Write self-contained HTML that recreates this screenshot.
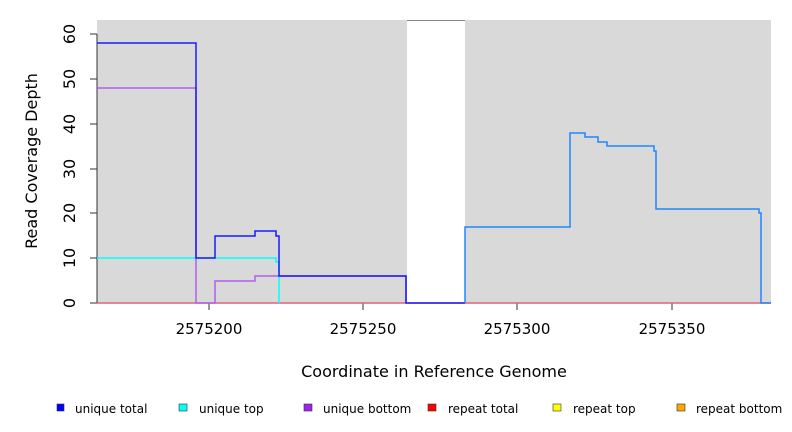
<!DOCTYPE html>
<html><head><meta charset="utf-8"><style>
body{margin:0;background:#fff}
svg{display:block;font-family:"DejaVu Sans","Liberation Sans",sans-serif}
</style></head><body>
<svg width="792" height="432" viewBox="0 0 792 432" xmlns="http://www.w3.org/2000/svg">
<rect x="97" y="20" width="674" height="283" fill="#d9d9d9"/>
<rect x="407" y="20" width="58" height="283" fill="#fff"/>
<line x1="407" y1="20.5" x2="465" y2="20.5" stroke="#888" stroke-width="1"/>
<g stroke="#333" stroke-width="1">
<line x1="97" y1="34" x2="97" y2="303"/>
<line x1="90" y1="303" x2="97" y2="303"/>
<line x1="90" y1="258" x2="97" y2="258"/>
<line x1="90" y1="213" x2="97" y2="213"/>
<line x1="90" y1="169" x2="97" y2="169"/>
<line x1="90" y1="124" x2="97" y2="124"/>
<line x1="90" y1="79" x2="97" y2="79"/>
<line x1="90" y1="34" x2="97" y2="34"/>
<line x1="209" y1="303" x2="209" y2="310"/>
<line x1="363" y1="303" x2="363" y2="310"/>
<line x1="517" y1="303" x2="517" y2="310"/>
<line x1="672" y1="303" x2="672" y2="310"/>
</g>
<g font-size="15" fill="#000" text-anchor="middle">
<text transform="translate(75,303) rotate(-90)" font-size="16">0</text>
<text transform="translate(75,258) rotate(-90)" font-size="16">10</text>
<text transform="translate(75,213) rotate(-90)" font-size="16">20</text>
<text transform="translate(75,169) rotate(-90)" font-size="16">30</text>
<text transform="translate(75,124) rotate(-90)" font-size="16">40</text>
<text transform="translate(75,79) rotate(-90)" font-size="16">50</text>
<text transform="translate(75,34) rotate(-90)" font-size="16">60</text>
<text x="209" y="334">2575200</text>
<text x="363" y="334">2575250</text>
<text x="517" y="334">2575300</text>
<text x="672" y="334">2575350</text>
<text x="434" y="377" font-size="16">Coordinate in Reference Genome</text>
<text transform="translate(37,161) rotate(-90)" font-size="16">Read Coverage Depth</text>
</g>
<g fill="none" stroke-width="1.5">
<line x1="97" y1="303" x2="771" y2="303" stroke="#e0607a"/>
<polyline stroke="#00ffff" points="97,258 276,258 276,262 279,262 279,303"/>
<polyline stroke="#b060f0" points="97,88 196,88 196,303 215,303 215,281 255,281 255,276 406,276 406,303"/>
<polyline stroke="#1a1aff" points="97,43 196,43 196,258 215,258 215,236 255,236 255,231 276,231 276,236 279,236 279,276 406,276 406,303 465,303"/>
<polyline stroke="#1e88ff" points="465,303 465,227 570,227 570,133 585,133 585,137 598,137 598,142 607,142 607,146 654,146 654,151 656,151 656,209 759,209 759,213 761,213 761,303 771,303"/>
</g>
<g font-size="12" fill="#000">
<rect x="57" y="404" width="7" height="7" fill="#0000ff" stroke="#333" stroke-width="0.6"/><text x="75" y="413">unique total</text>
<rect x="179" y="404" width="8" height="7" fill="#00ffff" stroke="#333" stroke-width="0.6"/><text x="199" y="413">unique top</text>
<rect x="304" y="404" width="8" height="7" fill="#a020f0" stroke="#333" stroke-width="0.6"/><text x="323" y="413">unique bottom</text>
<rect x="428" y="404" width="8" height="7" fill="#ff0000" stroke="#333" stroke-width="0.6"/><text x="448" y="413">repeat total</text>
<rect x="553" y="404" width="8" height="7" fill="#ffff00" stroke="#333" stroke-width="0.6"/><text x="573" y="413">repeat top</text>
<rect x="677" y="404" width="8" height="7" fill="#ffa500" stroke="#333" stroke-width="0.6"/><text x="696" y="413">repeat bottom</text>
</g>
</svg>
</body></html>
